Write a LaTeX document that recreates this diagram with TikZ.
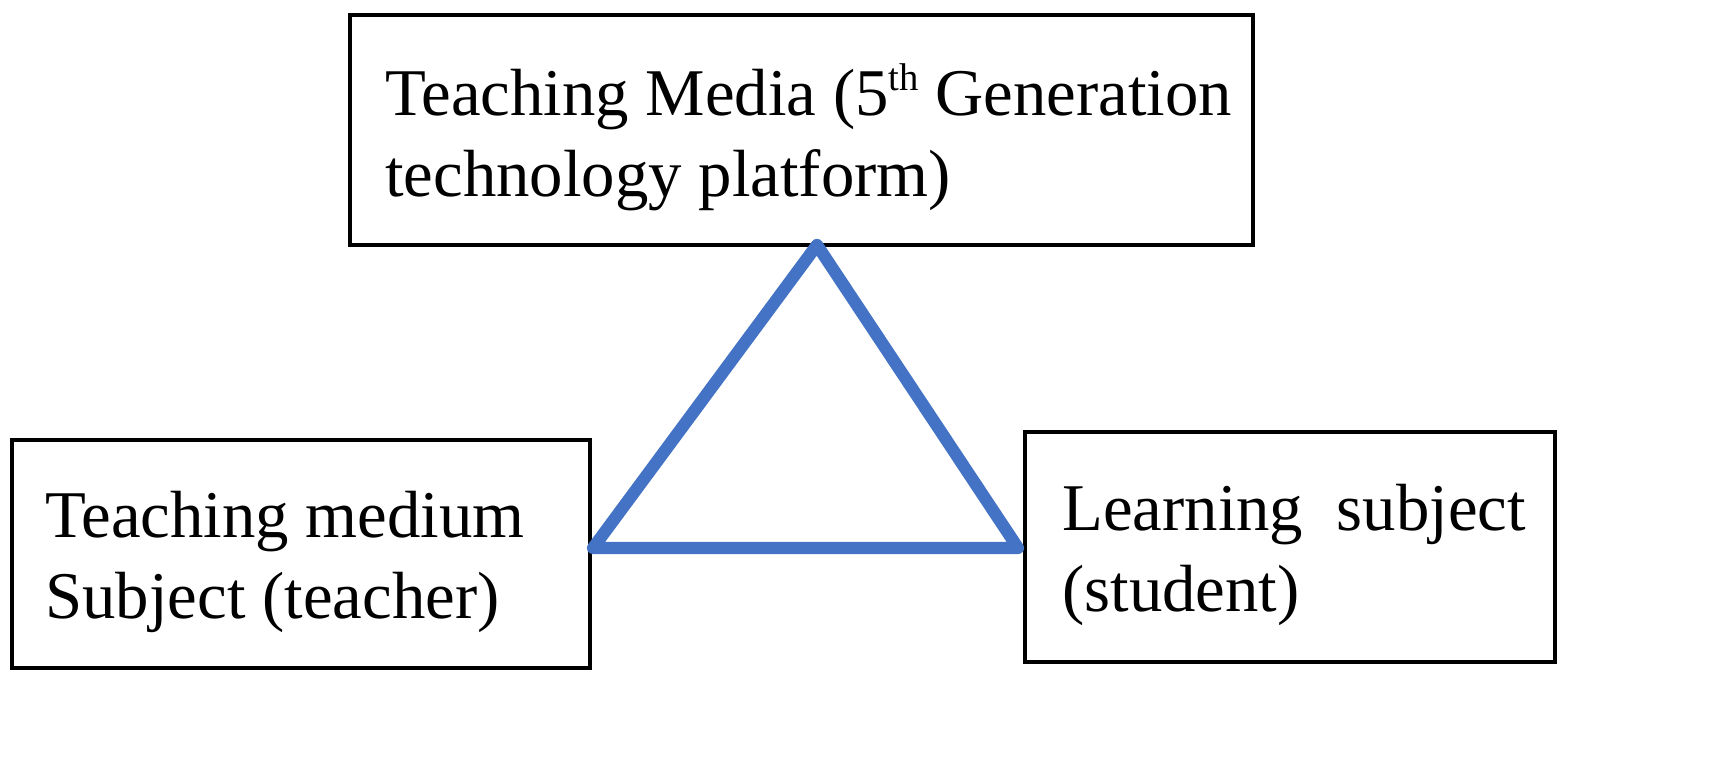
\documentclass[tikz,border=0pt]{standalone}
\usepackage{fontspec}
\setmainfont{Liberation Serif}
\begin{document}
\begin{tikzpicture}[x=0.02cm,y=-0.02cm,
  box/.style={draw=black,line width=2.5pt},
  txt/.style={anchor=west,inner sep=0pt,font=\fontsize{38}{46}\selectfont,align=left},
  tri/.style={draw={rgb,255:red,68;green,114;blue,196},line width=7pt,line join=round,line cap=round}]
\useasboundingbox (0,0) rectangle (1732,764);
\draw[box] (350,15) rectangle (1253,245);
\draw[box] (12,440) rectangle (590,668);
\draw[box] (1025,432) rectangle (1555,662);
\node[txt] (top) at (385,137) {Teaching Media (5\raisebox{0.38em}{\fontsize{22}{22}\selectfont th} Generation\\technology platform)};
\node[txt] (left) at (45,562) {Teaching medium\\Subject (teacher)};
\node[txt] (right) at (1062,555) {Learning\ \ subject\\(student)};
\coordinate (a) at (817,245);
\coordinate (b) at (593,548);
\coordinate (c) at (1018,548);
\draw[tri] (a) -- (b) -- (c) -- cycle;
\end{tikzpicture}
\end{document}
